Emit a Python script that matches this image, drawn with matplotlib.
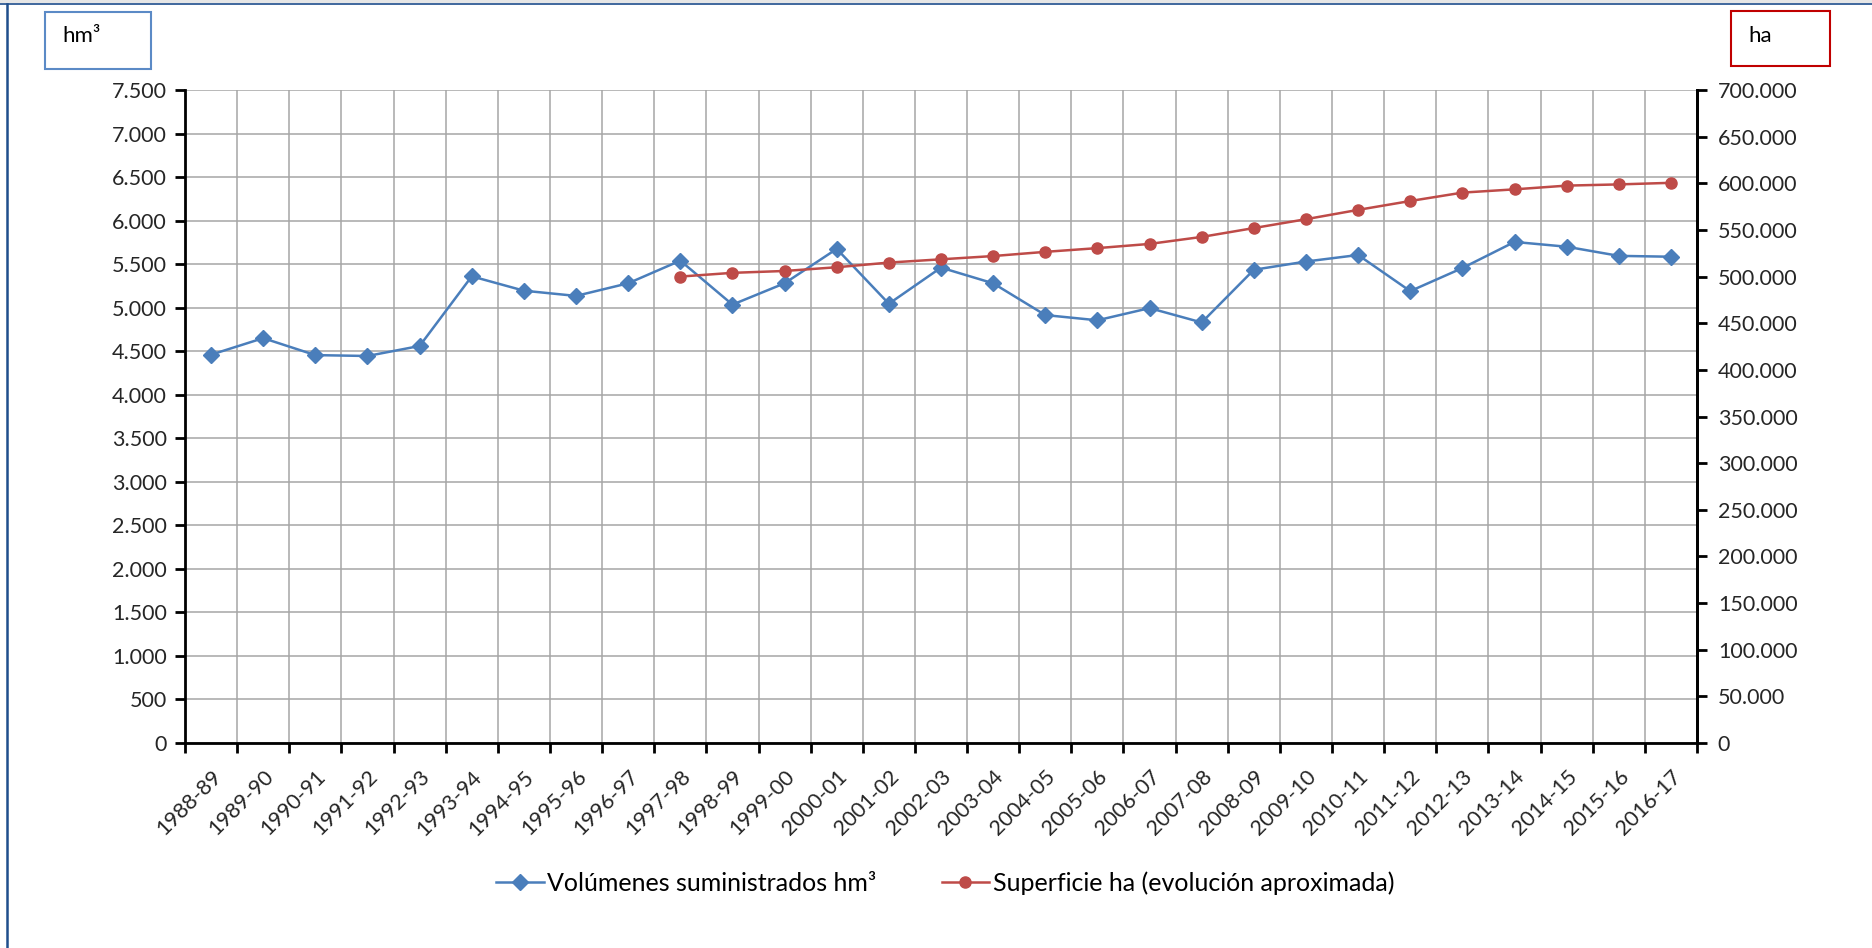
import numpy as np
import matplotlib
matplotlib.use('Agg')
import matplotlib.pyplot as plt
import matplotlib.transforms as mtransforms
from matplotlib.ticker import FuncFormatter, MultipleLocator
from matplotlib.lines import Line2D
from matplotlib.patches import Rectangle

plt.rcParams['font.family'] = ['Lato', 'DejaVu Sans']

# campaigns (x categories)
campaigns = ['1988-89', '1989-90', '1990-91', '1991-92', '1992-93', '1993-94',
             '1994-95', '1995-96', '1996-97', '1997-98', '1998-99', '1999-00',
             '2000-01', '2001-02', '2002-03', '2003-04', '2004-05', '2005-06',
             '2006-07', '2007-08', '2008-09', '2009-10', '2010-11', '2011-12',
             '2012-13', '2013-14', '2014-15', '2015-16', '2016-17']

# volumes supplied (hm3), left axis
volumes = [4460, 4650, 4455, 4445, 4560, 5360, 5195, 5135, 5280, 5540,
           5035, 5280, 5675, 5045, 5460, 5280, 4915, 4855, 4995, 4830,
           5435, 5530, 5605, 5190, 5455, 5755, 5700, 5595, 5585]

# irrigated surface (ha), right axis -- starts in 1997-98
surface = [np.nan] * 9 + [500000, 504000, 506000, 510000, 515000, 518500,
                          522000, 526500, 530500, 535000, 542500, 552000,
                          561500, 571500, 581000, 590000, 593500, 597500,
                          598800, 600500]

left_ticks = np.arange(0, 7501, 500)
right_ticks = np.arange(0, 700001, 50000)

blue = '#4a7ebb'
red = '#be4b48'
grid_c = '#a6a6a6'
txt_c = '#262626'

W, H = 1872, 948
fig = plt.figure(figsize=(W / 100, H / 100), dpi=100)
fig.patch.set_facecolor('white')

# outer frame bits of the screenshot
fig.add_artist(Rectangle((0, 1 - 3 / H), 1, 3 / H, transform=fig.transFigure,
                         facecolor='#e6e6e6', edgecolor='none'))
fig.add_artist(Line2D([0, 1], [1 - 4 / H, 1 - 4 / H], transform=fig.transFigure,
                      color='#1f4e8c', lw=1.2))
fig.add_artist(Line2D([7 / W, 7 / W], [0, 1 - 4 / H], transform=fig.transFigure,
                      color='#1f4e8c', lw=1.8))

x = np.arange(len(campaigns))

ax = fig.add_axes([185 / W, 1 - 743 / H, (1697 - 185) / W, (743 - 90) / H])
ax.set_xlim(-0.5, len(campaigns) - 0.5)
ax.set_ylim(0, 7500)
ax.set_yticks(left_ticks)
ax.yaxis.set_major_formatter(FuncFormatter(lambda v, p: f'{int(v):,}'.replace(',', '.')))

ax.set_xticks(x)
ax.set_xticklabels(campaigns, rotation=45, ha='right', va='top',
                   rotation_mode='anchor', fontsize=15.5, color=txt_c)
shift = mtransforms.ScaledTranslation(5 / 100, 0, fig.dpi_scale_trans)
for lab in ax.get_xticklabels():
    lab.set_transform(lab.get_transform() + shift)
ax.xaxis.set_minor_locator(MultipleLocator(1, offset=0.5))
ax.tick_params(axis='x', which='major', length=0, pad=17)
ax.tick_params(axis='x', which='minor', length=7, width=2, color='black')
ax.tick_params(axis='y', length=7, width=2, labelsize=15.5, labelcolor=txt_c, pad=6)

ax.grid(True, which='minor', axis='x', color=grid_c, lw=1.1)
ax.grid(True, which='major', axis='y', color=grid_c, lw=1.1)
ax.set_axisbelow(True)

for s in ['left', 'bottom', 'right']:
    ax.spines[s].set_linewidth(2)
    ax.spines[s].set_color('black')
ax.spines['top'].set_visible(False)

l1, = ax.plot(x, volumes, color=blue, lw=1.8, marker='D', markersize=8,
              markeredgecolor=blue, label='Volúmenes suministrados hm³', zorder=3)

ax2 = ax.twinx()
ax2.set_ylim(0, 700000)
ax2.set_yticks(right_ticks)
ax2.yaxis.set_major_formatter(FuncFormatter(lambda v, p: f'{int(v):,}'.replace(',', '.')))
ax2.tick_params(axis='y', length=7, width=2, labelsize=15.5, labelcolor=txt_c, pad=8)
for s in ['left', 'bottom', 'top']:
    ax2.spines[s].set_visible(False)
ax2.spines['right'].set_linewidth(2)

l2, = ax2.plot(x, surface, color=red, lw=1.8, marker='o', markersize=8,
               markeredgecolor=red, label='Superficie ha (evolución aproximada)', zorder=3)

fig.legend(handles=[l1, l2], loc='center', bbox_to_anchor=(0.505, 1 - 883 / H),
           ncol=2, frameon=False, fontsize=18, handlelength=1.9, handletextpad=0.15,
           columnspacing=2.6, labelcolor='black')

# unit boxes
fig.add_artist(Rectangle((45 / W, 1 - 69 / H), 106 / W, 57 / H, transform=fig.transFigure,
                         facecolor='white', edgecolor='#5b8ac6', lw=1.5))
fig.text(62 / W, 1 - 36 / H, 'hm³', fontsize=16, va='center', ha='left', color='black')
fig.add_artist(Rectangle((1731 / W, 1 - 66 / H), 99 / W, 55 / H, transform=fig.transFigure,
                         facecolor='white', edgecolor='#c00000', lw=1.5))
fig.text(1748 / W, 1 - 36 / H, 'ha', fontsize=16, va='center', ha='left', color='black')

fig.savefig('out.png', dpi=100)
